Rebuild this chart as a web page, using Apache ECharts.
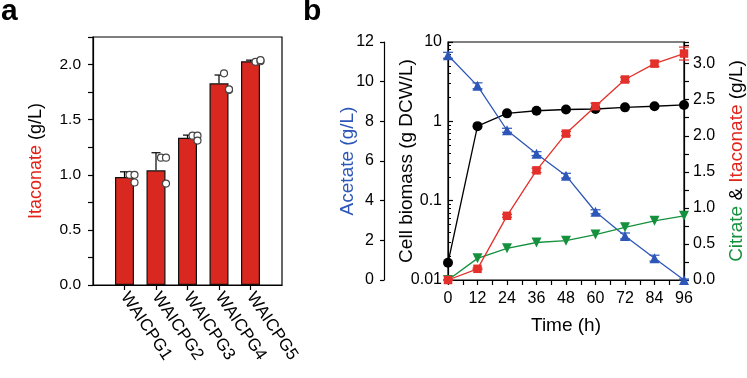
<!DOCTYPE html>
<html><head><meta charset="utf-8">
<script src="https://cdn.jsdelivr.net/npm/echarts@6/dist/echarts.min.js"></script>
<style>html,body{margin:0;padding:0;background:#fff}#c{width:747px;height:378px}</style>
</head><body><div id="c"></div>
<script>
// ---- Panel a data ----
const strains = ['WAICPG1', 'WAICPG2', 'WAICPG3', 'WAICPG4', 'WAICPG5'];
const itaconateMean = [0.98, 1.04, 1.335, 1.83, 2.03];
const itaconateSD = [0.047, 0.16, 0.025, 0.075, 0.01];
const itaconateReps = [
  [1.00, 1.00, 0.93],
  [1.155, 1.155, 0.92],
  [1.355, 1.355, 1.31],
  [1.92, 1.77, 1.775],
  [2.025, 2.03, 2.04]
];
// ---- Panel b data ----
const timeH = [0, 12, 24, 36, 48, 60, 72, 84, 96];
const biomass = [0.0165, 0.87, 1.26, 1.36, 1.41, 1.43, 1.50, 1.55, 1.61];
const acetate = [11.33, 9.79, 7.55, 6.37, 5.26, 3.44, 2.22, 1.10, 0];
const acetateSD = [0.15, 0.15, 0.1, 0.1, 0.12, 0.1, 0.15, 0.15, 0.05];
const itaconateB = [0, 0.155, 0.89, 1.52, 2.03, 2.41, 2.78, 3.00, 3.14];
const itaconateBSD = [0, 0.01, 0.02, 0.03, 0.03, 0.04, 0.03, 0.04, 0.09];
const citrate = [0, 0.30, 0.44, 0.52, 0.545, 0.63, 0.73, 0.82, 0.89];

const FONT = 'Liberation Sans, Arial, Helvetica, sans-serif';
const RED = '#d8281f', BLUE = '#2c56b8', GREEN = '#15913e', BRED = '#e3302a';

const chart = echarts.init(document.getElementById('c'), null, {renderer: 'canvas'});

const cats = [''].concat(strains, ['']);
const barData = ['-'].concat(itaconateMean, ['-']);
const errA = itaconateMean.map((m, i) => [i + 1, m, m + itaconateSD[i]]);
const jitter = [5, 10, 10];
const dotData = [];
itaconateReps.forEach((reps, i) => reps.forEach((v, j) => {
  dotData.push({value: [i + 1, v], symbolOffset: [jitter[j], 0]});
}));

function errRender(capHalf, both) {
  return function (params, api) {
    const x = api.value(0), lo = api.value(1), hi = api.value(2);
    const p1 = api.coord([x, lo]), p2 = api.coord([x, hi]);
    const st = {stroke: api.visual('color'), lineWidth: 1.2};
    const ch = [
      {type: 'line', shape: {x1: p1[0], y1: p1[1], x2: p2[0], y2: p2[1]}, style: st},
      {type: 'line', shape: {x1: p2[0] - capHalf, y1: p2[1], x2: p2[0] + capHalf, y2: p2[1]}, style: st}
    ];
    if (both) ch.push({type: 'line', shape: {x1: p1[0] - capHalf, y1: p1[1], x2: p1[0] + capHalf, y2: p1[1]}, style: st});
    return {type: 'group', children: ch};
  };
}

const minorLog = [];
[0.01, 0.1, 1].forEach(d => { for (let k = 2; k <= 9; k++) minorLog.push(+(k * d).toFixed(4)); });

const axLine = {lineStyle: {color: '#000', width: 1.2}};
const halfFmt = v => (Math.abs(v * 2 - Math.round(v * 2)) < 1e-6 ? v.toFixed(1) : '');

const option = {
  animation: false,
  backgroundColor: '#fff',
  textStyle: {fontFamily: FONT},
  graphic: [
    {type: 'text', left: 1, top: -3, style: {text: 'a', fontSize: 30, fontWeight: 'bold', fontFamily: FONT, fill: '#000'}},
    {type: 'text', left: 303, top: -3, style: {text: 'b', fontSize: 30, fontWeight: 'bold', fontFamily: FONT, fill: '#000'}}
  ],
  grid: [
    {left: 93, top: 37, width: 189, height: 248, show: true, borderColor: '#000', borderWidth: 1.2, backgroundColor: 'transparent'},
    {left: 448, top: 42, width: 238, height: 238, show: true, borderColor: '#000', borderWidth: 1.2, backgroundColor: 'transparent'}
  ],
  xAxis: [
    {
      gridIndex: 0, type: 'category', data: cats, boundaryGap: false,
      axisLine: axLine,
      axisTick: {show: true, length: 5, lineStyle: {color: '#000', width: 1.2}, interval: (i, v) => v !== ''},
      axisLabel: {rotate: -56, fontSize: 17, color: '#000', margin: 9, fontFamily: FONT, interval: 0},
      splitLine: {show: false}
    },
    {
      gridIndex: 1, type: 'value', min: 0, max: 96, interval: 6,
      axisLine: axLine,
      axisTick: {show: true, length: 5, lineStyle: {color: '#000', width: 1.2}},
      axisLabel: {fontSize: 16, color: '#000', margin: 11, fontFamily: FONT, formatter: v => (v % 12 === 0 ? String(v) : '')},
      splitLine: {show: false},
      name: 'Time (h)', nameLocation: 'middle', nameGap: 36, nameMoveOverlap: false,
      nameTextStyle: {fontSize: 19, color: '#000', fontFamily: FONT}
    }
  ],
  yAxis: [
    {
      gridIndex: 0, type: 'value', min: 0, max: 2.25, interval: 0.25,
      axisLine: {show: true, lineStyle: {color: '#000', width: 1.2}},
      axisTick: {show: true, length: 5, lineStyle: {color: '#000', width: 1.2}},
      axisLabel: {fontSize: 15.5, color: '#000', margin: 12, fontFamily: FONT, formatter: halfFmt},
      splitLine: {show: false},
      name: '{r|Itaconate} {k|(g/L)}', nameLocation: 'middle', nameGap: 48, nameRotate: 90, nameMoveOverlap: false,
      nameTextStyle: {fontSize: 18, fontFamily: FONT, rich: {r: {color: '#e2231a', fontSize: 18, fontFamily: FONT}, k: {color: '#000', fontSize: 18, fontFamily: FONT}}}
    },
    {
      // log biomass axis
      gridIndex: 1, type: 'log', logBase: 10, min: 0.01, max: 10, position: 'left',
      axisLine: {show: true, lineStyle: {color: '#000', width: 1.2}},
      axisTick: {show: true, inside: true, length: 5, lineStyle: {color: '#000', width: 1.2}},
      axisLabel: {fontSize: 16, color: '#000', margin: 6, fontFamily: FONT},
      splitLine: {show: false},
      name: 'Cell biomass (g DCW/L)', nameLocation: 'middle', nameGap: 32, nameRotate: 90, nameMoveOverlap: false,
      nameTextStyle: {fontSize: 19, color: '#000', fontFamily: FONT}
    },
    {
      // acetate axis
      gridIndex: 1, type: 'value', min: 0, max: 12, interval: 2, position: 'left', offset: 64,
      axisLine: {show: true, lineStyle: {color: '#000', width: 1.2}},
      axisTick: {show: true, length: 4, lineStyle: {color: '#000', width: 1.2}},
      axisLabel: {fontSize: 16, color: '#000', margin: 10, fontFamily: FONT},
      splitLine: {show: false},
      name: 'Acetate (g/L)', nameLocation: 'middle', nameGap: 27, nameRotate: 90, nameMoveOverlap: false,
      nameTextStyle: {fontSize: 19, color: BLUE, fontFamily: FONT}
    },
    {
      // citrate & itaconate axis
      gridIndex: 1, type: 'value', min: 0, max: 3.3, interval: 0.25, position: 'right',
      axisLine: {show: true, lineStyle: {color: '#000', width: 1.2}},
      axisTick: {show: true, length: 5, lineStyle: {color: '#000', width: 1.2}},
      axisLabel: {fontSize: 16, color: '#000', margin: 9, fontFamily: FONT, formatter: halfFmt},
      splitLine: {show: false},
      name: '{g|Citrate} {k|&} {r|Itaconate} {k|(g/L)}', nameLocation: 'middle', nameGap: 43, nameRotate: 90, nameMoveOverlap: false,
      nameTextStyle: {fontSize: 19, fontFamily: FONT,
        rich: {g: {color: GREEN, fontSize: 19, fontFamily: FONT}, r: {color: '#e2231a', fontSize: 19, fontFamily: FONT}, k: {color: '#000', fontSize: 19, fontFamily: FONT}}}
    },
    {
      // minor ticks of log axis
      gridIndex: 1, type: 'log', logBase: 10, min: 0.01, max: 10, position: 'left',
      axisLine: {show: false},
      axisTick: {show: true, inside: true, length: 3, lineStyle: {color: '#000', width: 1}, customValues: minorLog},
      axisLabel: {show: false},
      splitLine: {show: false}
    }
  ],
  series: [
    {
      type: 'bar', xAxisIndex: 0, yAxisIndex: 0, data: barData, barWidth: 19,
      itemStyle: {color: RED, borderColor: '#111', borderWidth: 1.2}, z: 2
    },
    {
      type: 'custom', xAxisIndex: 0, yAxisIndex: 0, data: errA, encode: {x: 0, y: [1, 2]},
      renderItem: errRender(4.5, false), itemStyle: {color: '#000'}, z: 3
    },
    {
      type: 'scatter', xAxisIndex: 0, yAxisIndex: 0, data: dotData, symbol: 'circle', symbolSize: 7,
      itemStyle: {color: '#fff', borderColor: '#444', borderWidth: 1.2, opacity: 1}, z: 4
    },
    {
      name: 'Biomass', type: 'line', xAxisIndex: 1, yAxisIndex: 1,
      data: timeH.map((t, i) => [t, biomass[i]]), symbol: 'circle', symbolSize: 10,
      itemStyle: {color: '#000'}, lineStyle: {color: '#000', width: 1.3}, z: 3
    },
    {
      type: 'custom', xAxisIndex: 1, yAxisIndex: 2,
      data: timeH.map((t, i) => [t, Math.max(0, acetate[i] - acetateSD[i]), acetate[i] + acetateSD[i]]),
      encode: {x: 0, y: [1, 2]}, renderItem: errRender(5, true), itemStyle: {color: BLUE}, z: 3
    },
    {
      name: 'Acetate', type: 'line', xAxisIndex: 1, yAxisIndex: 2,
      data: timeH.map((t, i) => [t, acetate[i]]), symbol: 'triangle', symbolSize: 10,
      itemStyle: {color: BLUE}, lineStyle: {color: BLUE, width: 1.3}, z: 4
    },
    {
      name: 'Citrate', type: 'line', xAxisIndex: 1, yAxisIndex: 3,
      data: timeH.map((t, i) => [t, citrate[i]]), symbol: 'triangle', symbolRotate: 180, symbolSize: 10,
      itemStyle: {color: GREEN}, lineStyle: {color: GREEN, width: 1.3}, z: 5
    },
    {
      type: 'custom', xAxisIndex: 1, yAxisIndex: 3,
      data: timeH.map((t, i) => [t, Math.max(0, itaconateB[i] - itaconateBSD[i]), itaconateB[i] + itaconateBSD[i]]),
      encode: {x: 0, y: [1, 2]}, renderItem: errRender(5, true), itemStyle: {color: BRED}, z: 5
    },
    {
      name: 'Itaconate', type: 'line', xAxisIndex: 1, yAxisIndex: 3,
      data: timeH.map((t, i) => [t, itaconateB[i]]), symbol: 'rect', symbolSize: 8.5,
      itemStyle: {color: BRED}, lineStyle: {color: BRED, width: 1.3}, z: 6
    }
  ]
};
chart.setOption(option);
</script></body></html>
